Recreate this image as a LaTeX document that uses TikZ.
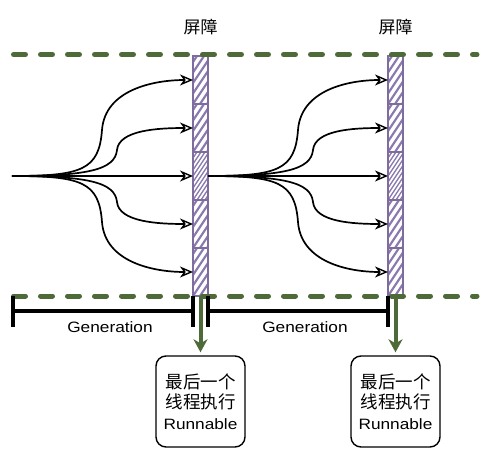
\documentclass[tikz,border=0pt]{standalone}
\usepackage{fontspec}
\setmainfont{Liberation Sans}
\newfontfamily\cjk{Noto Sans CJK SC}
\newfontfamily\latw[FakeStretch=1.15]{Liberation Sans}
\usetikzlibrary{arrows.meta}
\definecolor{dgreen}{HTML}{4E6A38}
\definecolor{bpurple}{HTML}{7E6C9E}
\definecolor{hpurple}{HTML}{8A7AAE}
\tikzset{
  guide/.style={dgreen, line width=5pt, line cap=round, dash pattern=on 12pt off 15pt},
  hatchA/.style={path picture={\foreach \k in {-8,...,3}{\draw[hpurple,line width=2.2pt] ([xshift=\k*7pt]path picture bounding box.south west) -- ++(40pt,60pt);}}},
  hatchB/.style={path picture={\foreach \k in {-9,...,4}{\draw[hpurple,line width=1.3pt] ([xshift=\k*4pt]path picture bounding box.south west) -- ++(40pt,60pt);}}},
  seg/.style={draw=bpurple, line width=1.6pt, fill=white, minimum width=15pt, minimum height=48pt, inner sep=0pt, outer sep=0pt},
  flow/.style={black, line width=1.7pt, -{Stealth[open, length=13pt, width=11pt, inset=4pt, fill=white, line width=1.4pt]}},
  bracket/.style={black, line width=4pt},
  gout/.style={dgreen, line width=4pt, -{Stealth[length=13pt, width=14pt, inset=4pt]}, shorten >=3pt},
  rbox/.style={draw=black, line width=1.4pt, rounded corners=10pt, minimum width=89pt, minimum height=91pt, inner sep=0pt, align=center, font=\latw\fontsize{15}{20.5}\selectfont},
  lbl/.style={font=\latw\fontsize{15}{18}\selectfont, inner sep=0pt},
  ttl/.style={font=\cjk\fontsize{17}{20}\selectfont, inner sep=0pt},
}
\begin{document}
\begin{tikzpicture}[x=1pt, y=-1pt]
\useasboundingbox (0,0) rectangle (491,458);
% titles
\node[ttl] (t1) at (200.5,27) {屏障};
\node[ttl] (t2) at (395.5,27) {屏障};
% barrier 1
\node[seg,hatchA] (a1) at (200.5,80) {};
\node[seg,hatchA] (a2) at (200.5,128) {};
\node[seg,hatchB] (a3) at (200.5,176) {};
\node[seg,hatchA] (a4) at (200.5,224) {};
\node[seg,hatchA] (a5) at (200.5,272) {};
% barrier 2
\node[seg,hatchA] (b1) at (395.5,80) {};
\node[seg,hatchA] (b2) at (395.5,128) {};
\node[seg,hatchB] (b3) at (395.5,176) {};
\node[seg,hatchA] (b4) at (395.5,224) {};
\node[seg,hatchA] (b5) at (395.5,272) {};
% origin
\coordinate (o1) at (12,176);
\coordinate (o2) at (a3.east);
% flows set 1
\draw[flow] (o1) .. controls +(70,0) and +(-3,40) .. ++(90,-46) .. controls +(3,-40) and +(-40,0) .. (a1.west);
\draw[flow] (o1) .. controls +(75,0) and +(-2,20) .. ++(105,-26) .. controls +(2,-20) and +(-35,0) .. (a2.west);
\draw[flow] (o1) -- (a3.west);
\draw[flow] (o1) .. controls +(75,0) and +(-2,-20) .. ++(105,26) .. controls +(2,20) and +(-35,0) .. (a4.west);
\draw[flow] (o1) .. controls +(70,0) and +(-3,-40) .. ++(90,46) .. controls +(3,40) and +(-40,0) .. (a5.west);
% flows set 2
\draw[flow] (o2) .. controls +(70,0) and +(-3,40) .. ++(90,-46) .. controls +(3,-40) and +(-40,0) .. (b1.west);
\draw[flow] (o2) .. controls +(75,0) and +(-2,20) .. ++(105,-26) .. controls +(2,-20) and +(-35,0) .. (b2.west);
\draw[flow] (o2) -- (b3.west);
\draw[flow] (o2) .. controls +(75,0) and +(-2,-20) .. ++(105,26) .. controls +(2,20) and +(-35,0) .. (b4.west);
\draw[flow] (o2) .. controls +(70,0) and +(-3,-40) .. ++(90,46) .. controls +(3,40) and +(-40,0) .. (b5.west);
% guide lines
\draw[guide] (13.5,54.5) -- (477,54.5);
\draw[guide] (13.5,296) -- (477,296);
% generation brackets
\draw[bracket] (13,296) -- (13,327);
\draw[bracket] (13,311) -- (193,311);
\draw[bracket] (193,296) -- (193,327);
\draw[bracket] (208,296) -- (208,327);
\draw[bracket] (208,311) -- (388,311);
\draw[bracket] (388,296) -- (388,327);
\node[lbl] (g1) at (110,327) {Generation};
\node[lbl] (g2) at (305,327) {Generation};
% result boxes
\node[rbox] (r1) at (200.5,401.5) {{\cjk\fontsize{17.5}{20.5}\selectfont 最后一个}\\{\cjk\fontsize{17.5}{20.5}\selectfont 线程执行}\\Runnable};
\node[rbox] (r2) at (395.5,401.5) {{\cjk\fontsize{17.5}{20.5}\selectfont 最后一个}\\{\cjk\fontsize{17.5}{20.5}\selectfont 线程执行}\\Runnable};
\draw[gout] (a5.south) -- (r1.north);
\draw[gout] (b5.south) -- (r2.north);
\end{tikzpicture}
\end{document}
